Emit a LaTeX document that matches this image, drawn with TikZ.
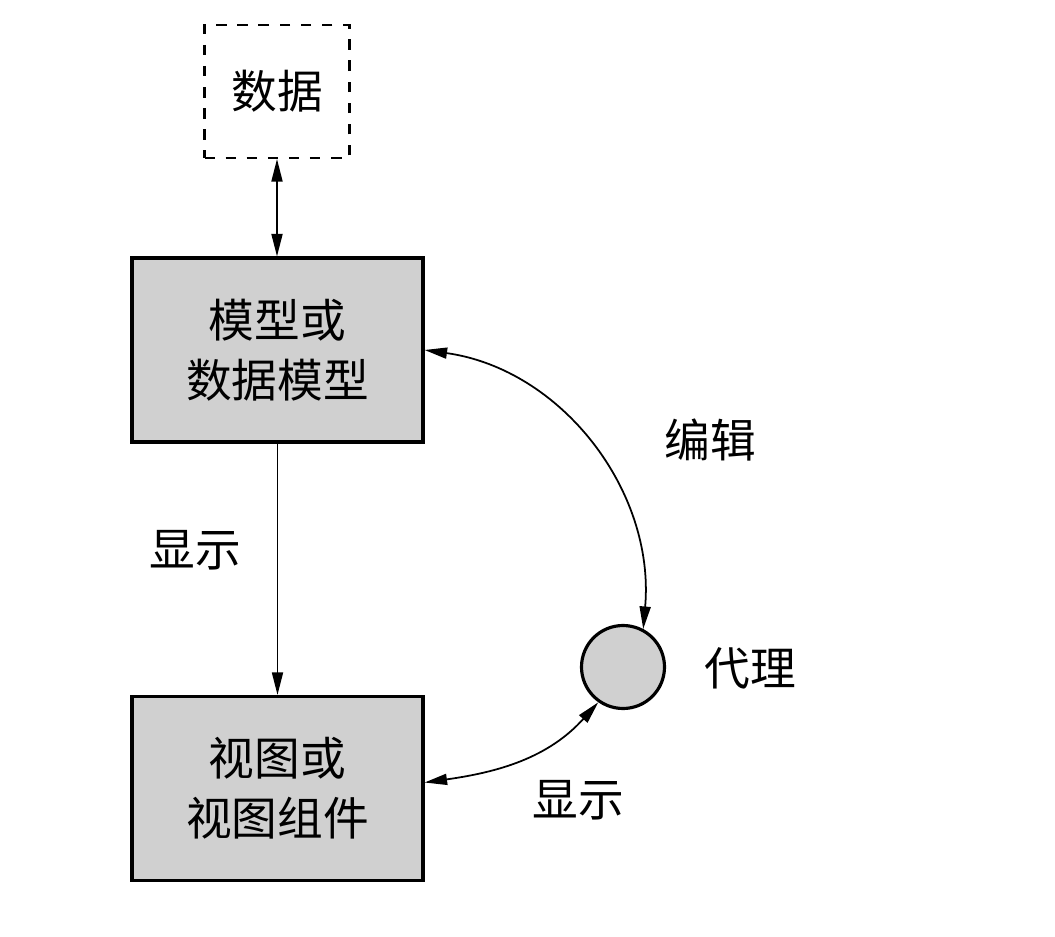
\documentclass[tikz,border=0pt]{standalone}
\usepackage{fontspec}
\setmainfont{Noto Sans CJK SC}
\usetikzlibrary{arrows.meta}
\definecolor{boxgray}{RGB}{208,208,208}
\tikzset{
  databox/.style={draw, line width=1.2pt, dash pattern=on 6pt off 6pt,
    minimum width=2.9cm, minimum height=2.66cm, inner sep=0pt},
  mainbox/.style={draw, fill=boxgray, line width=1.8pt, align=center,
    minimum width=5.82cm, minimum height=3.68cm, inner sep=0pt},
  proxydot/.style={draw, fill=boxgray, circle, line width=1.8pt,
    minimum size=1.66cm, inner sep=0pt},
  link/.style={line width=1pt, {Triangle[length=4.5mm,width=2.2mm]}-{Triangle[length=4.5mm,width=2.2mm]}},
  onelink/.style={line width=1pt, -{Triangle[length=4.5mm,width=2.2mm]}}
}
\begin{document}
\begin{tikzpicture}[font=\fontsize{26}{34}\selectfont]
\useasboundingbox (0,0) rectangle (21.1,18.72);
\node[databox] (data) at (5.54,16.89) {数据};
\node[mainbox] (model) at (5.55,11.72) {模型或\\数据模型};
\node[mainbox] (view) at (5.55,2.95) {视图或\\视图组件};
\node[proxydot] (proxy) at (12.46,5.38) {};
\node (edit) at (14.2,9.92) {编辑};
\node (proxytext) at (15.0,5.36) {代理};
\node (showa) at (3.9,7.72) {显示};
\node (showb) at (11.56,2.72) {显示};
% connectors
\draw[link] (data.south) -- (data.south |- model.north);
\draw[onelink] (model.south) -- (view.north);
\draw[link] (model.east) to[out=-8, in=85] (proxy.62);
\coordinate (viewout) at ([yshift=0.12cm]view.east);
\draw[link] (viewout) to[out=8, in=228] (proxy.235);
\end{tikzpicture}
\end{document}
